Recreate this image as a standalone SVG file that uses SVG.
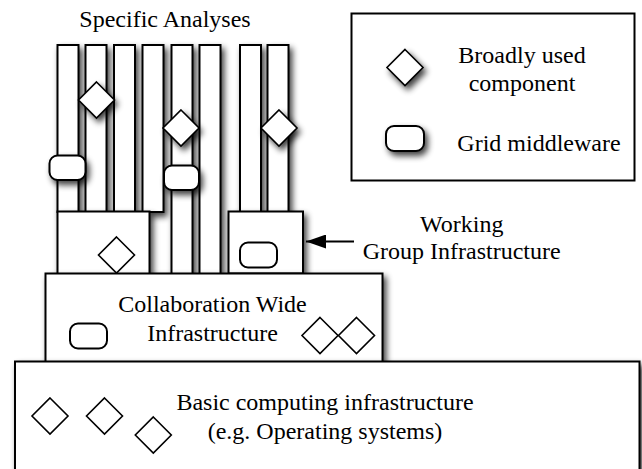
<svg xmlns="http://www.w3.org/2000/svg" width="642" height="469" viewBox="0 0 642 469">
<defs>
<style>
.s{fill:#fff;stroke:#000;stroke-width:2}
.d{fill:#fff;stroke:#000;stroke-width:1.6}
.sh{filter:url(#shadow)}
text{font-family:"Liberation Serif","Times New Roman",serif;font-size:24px;fill:#000;text-anchor:middle}
</style>
<filter id="shadow" x="-100%" y="-50%" width="300%" height="200%">
<feGaussianBlur in="SourceAlpha" stdDeviation="3.2"/>
<feOffset dx="3" dy="4"/>
<feComponentTransfer><feFuncA type="linear" slope="0.75"/></feComponentTransfer>
<feMerge><feMergeNode/><feMergeNode in="SourceGraphic"/></feMerge>
</filter>
<polygon id="dia" points="0,-18 18,0 0,18 -18,0"/>
<marker id="ah" viewBox="0 0 20 14" refX="20" refY="7" markerWidth="20" markerHeight="14" markerUnits="userSpaceOnUse" orient="auto">
<path d="M0,0 L20,7 L0,14 z" fill="#000"/>
</marker>
</defs>
<rect width="642" height="469" fill="#fff"/>

<text x="165" y="27">Specific Analyses</text>

<g id="bars">
<rect id="bar1" class="s sh" x="57.5" y="45" width="21" height="167"/>
<rect id="bar2" class="s sh" x="85.5" y="45" width="21" height="167"/>
<rect id="bar3" class="s sh" x="114" y="45" width="21" height="167"/>
<rect id="bar4" class="s sh" x="142.5" y="45" width="21" height="167"/>
<rect id="bar5" class="s sh" x="171.5" y="45" width="21" height="229"/>
<rect id="bar6" class="s sh" x="199.5" y="45" width="21" height="229"/>
<rect id="bar7" class="s sh" x="240" y="45" width="21" height="167"/>
<rect id="bar8" class="s sh" x="267.5" y="45" width="21" height="167"/>
</g>

<g id="bar-components">
<use href="#dia" class="d sh" x="96.5" y="100"/>
<use href="#dia" class="d sh" x="181" y="128"/>
<use href="#dia" class="d sh" x="279" y="128"/>
<rect class="s sh" x="49.5" y="155.5" width="36" height="24.5" rx="8"/>
<rect class="s sh" x="164" y="165.5" width="35" height="24.5" rx="8"/>
</g>

<g id="working-group-1">
<rect class="s sh" x="57.5" y="211.5" width="92" height="63"/>
<use href="#dia" class="d" x="116.5" y="255"/>
</g>

<g id="working-group-2">
<rect class="s sh" x="228.5" y="211.5" width="74.5" height="62"/>
<rect class="s" x="240" y="242.5" width="37" height="25" rx="8"/>
</g>

<g id="collaboration">
<rect class="s sh" x="45.5" y="273.5" width="337" height="95"/>
<text x="212.5" y="311.5">Collaboration Wide</text>
<text x="212.5" y="341">Infrastructure</text>
<rect class="s" x="70" y="323.5" width="37" height="25" rx="8"/>
<use href="#dia" class="d" x="320" y="335.5"/>
<use href="#dia" class="d" x="356.5" y="335.5"/>
</g>

<g id="basic">
<rect class="s sh" x="15" y="361.5" width="624.5" height="130"/>
<text x="325" y="410">Basic computing infrastructure</text>
<text x="325" y="438.5">(e.g. Operating systems)</text>
<use href="#dia" class="d" x="50" y="416"/>
<use href="#dia" class="d" x="104.5" y="416"/>
<use href="#dia" class="d" x="153.3" y="435"/>
</g>

<g id="legend">
<rect class="s" x="351.5" y="13.5" width="283" height="167"/>
<use href="#dia" class="d sh" x="405" y="67.5"/>
<text x="522" y="63">Broadly used</text>
<text x="522" y="90.5">component</text>
<rect class="s sh" x="386" y="126" width="38" height="25" rx="8"/>
<text x="539" y="150.5">Grid middleware</text>
</g>

<g id="wg-label">
<text x="461.7" y="231.5">Working</text>
<text x="461.7" y="259">Group Infrastructure</text>
</g>

<g id="connectors">
<line x1="354" y1="241.5" x2="306" y2="241.5" stroke="#000" stroke-width="2" marker-end="url(#ah)"/>
</g>
</svg>
